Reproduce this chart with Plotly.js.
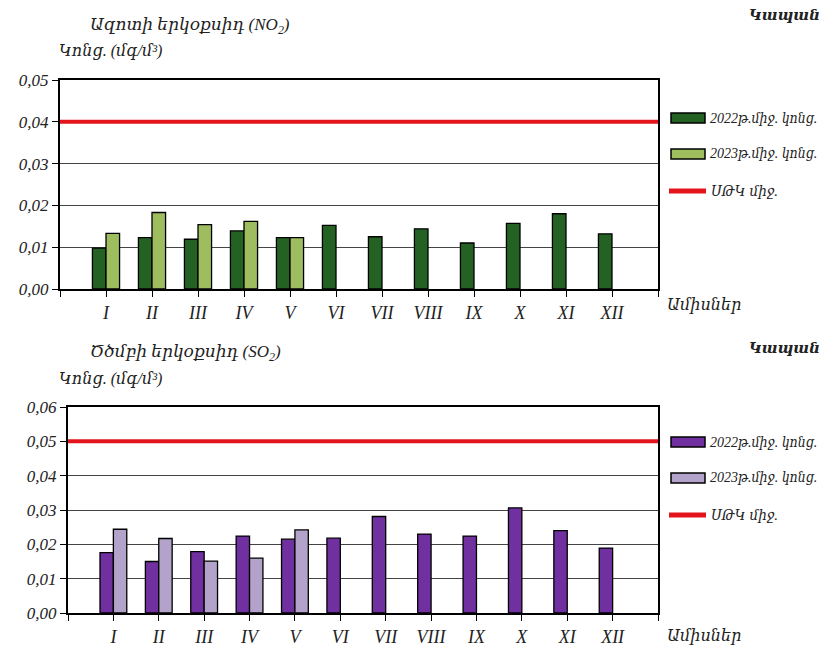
<!DOCTYPE html>
<html>
<head>
<meta charset="utf-8">
<script src="https://cdn.plot.ly/plotly-3.0.1.min.js"></script>
<style>html,body{margin:0;padding:0;background:#fff;} #chart{width:827px;height:648px;}</style>
</head>
<body>
<div id="chart"></div>
<script>
// ---- data ----
const months = ["I","II","III","IV","V","VI","VII","VIII","IX","X","XI","XII"];
const no2_2022 = [0.0098,0.0123,0.0119,0.0139,0.0123,0.0152,0.0125,0.0144,0.0110,0.0157,0.0180,0.0132];
const no2_2023 = [0.0133,0.0183,0.0154,0.0162,0.0123,null,null,null,null,null,null,null];
const so2_2022 = [0.0176,0.0150,0.0179,0.0224,0.0215,0.0218,0.0281,0.0230,0.0224,0.0306,0.0240,0.0189];
const so2_2023 = [0.0244,0.0217,0.0151,0.0160,0.0242,null,null,null,null,null,null,null];
const macNO2 = 0.04;
const macSO2 = 0.05;
const seriesNames = ["2022թ.միջ. կոնց.","2023թ.միջ. կոնց.","ՍԹԿ միջ."];
const city = "Կապան";
const title1 = "Ազոտի երկօքսիդ (NO<sub>2</sub>)";
const title2 = "Ծծմբի երկօքսիդ (SO<sub>2</sub>)";
const unitLabel = "Կոնց. (մգ/մ³)";
const xLabel = "Ամիսներ";

// ---- helpers ----
const W = 827, H = 648;
const px = x => x / W;
const py = y => 1 - y / H;
const FONT = "Liberation Serif, DejaVu Serif, serif";
const FONT_C = "Liberation Serif, DejaVu Serif Condensed, DejaVu Serif, serif";
const idx = months.map((_, i) => i);

const C = {
  g1: "#246224", g2: "#9dbd5f", p1: "#7030a0", p2: "#b3a2c9", red: "#e3141b"
};

function bar(x, y, color, name, xa, ya) {
  return {type: "bar", x: x, y: y, name: name, xaxis: xa, yaxis: ya,
    marker: {color: color, line: {color: "#000", width: 1.3}}, showlegend: false,
    hoverinfo: "y"};
}

const traces = [
  bar(idx, no2_2022, C.g1, seriesNames[0], "x", "y"),
  bar(idx, no2_2023, C.g2, seriesNames[1], "x", "y"),
  bar(idx, so2_2022, C.p1, seriesNames[0], "x2", "y2"),
  bar(idx, so2_2023, C.p2, seriesNames[1], "x2", "y2")
];

function xax(domain, anchor) {
  return {domain: domain, anchor: anchor, type: "linear", range: [-1, months.length],
    tickmode: "array", tickvals: idx, ticktext: months, ticks: "outside", ticklen: 6,
    tickcolor: "#000", tickwidth: 1,
    minor: {ticks: "outside", tick0: -1, dtick: 1, ticklen: 6, tickcolor: "#000", tickwidth: 1, showgrid: false},
    showline: true, linecolor: "#000", linewidth: 2,
    mirror: true, showgrid: false, zeroline: false, fixedrange: true,
    tickfont: {family: FONT, size: 18, color: "#222", style: "italic"}};
}
function yax(domain, anchor, max) {
  return {domain: domain, anchor: anchor, range: [0, max], dtick: 0.01, tick0: 0,
    tickformat: ".2f", ticks: "outside", ticklen: 6, tickcolor: "#000",
    showline: true, linecolor: "#000", linewidth: 2, mirror: true,
    showgrid: true, gridcolor: "#444", gridwidth: 1, zeroline: false, fixedrange: true,
    tickfont: {family: FONT, size: 17, color: "#222", style: "italic"}};
}

const ann = [];
function text(t, x, y, xanchor, opts) {
  opts = opts || {};
  ann.push({text: t, x: px(x), y: py(y), xref: "paper", yref: "paper",
    xanchor: xanchor, yanchor: "middle", showarrow: false,
    font: {family: opts.family || FONT, size: opts.size || 16, color: "#222", style: "italic",
      weight: opts.weight || "normal"}});
}
text(title1, 88, 26, "left", {size: 17});
text(unitLabel, 57, 51, "left", {size: 16});
text(city, 822, 15, "right", {size: 15, weight: "bold"});
text(xLabel, 665, 305, "left", {size: 16});
text(title2, 88, 353, "left", {size: 17});
text(unitLabel, 57, 379, "left", {size: 16});
text(city, 822, 348, "right", {size: 15, weight: "bold"});
text(xLabel, 665, 636, "left", {size: 16});

const shapes = [
  {type: "line", xref: "x domain", yref: "y", x0: 0, x1: 1, y0: macNO2, y1: macNO2,
    line: {color: C.red, width: 4}},
  {type: "line", xref: "x2 domain", yref: "y2", x0: 0, x1: 1, y0: macSO2, y1: macSO2,
    line: {color: C.red, width: 4}}
];

// custom legends
function legend(yTop, colors) {
  const ys = [yTop, yTop + 36, yTop + 73];
  for (let i = 0; i < 2; i++) {
    shapes.push({type: "rect", xref: "paper", yref: "paper",
      x0: px(671), x1: px(705), y0: py(ys[i] - 5), y1: py(ys[i] + 5),
      fillcolor: colors[i], line: {color: "#000", width: 1.5}});
    text(seriesNames[i], 708, ys[i], "left", {size: 14, family: FONT_C});
  }
  shapes.push({type: "line", xref: "paper", yref: "paper",
    x0: px(669), x1: px(706), y0: py(ys[2]), y1: py(ys[2]),
    line: {color: C.red, width: 5}});
  text(seriesNames[2], 709, ys[2], "left", {size: 15, family: FONT_C});
}
legend(118, [C.g1, C.g2]);
legend(442, [C.p1, C.p2]);

const layout = {
  width: W, height: H, margin: {l: 0, r: 0, t: 0, b: 0},
  paper_bgcolor: "#fff", plot_bgcolor: "#fff",
  separators: ", ",
  barmode: "group", bargap: 0.41, bargroupgap: 0,
  showlegend: false,
  xaxis: xax([px(60), px(658)], "y"),
  yaxis: yax([py(289), py(80)], "x", 0.05),
  xaxis2: xax([px(68), px(658)], "y2"),
  yaxis2: yax([py(613), py(407)], "x2", 0.06),
  annotations: ann,
  shapes: shapes
};

Plotly.newPlot("chart", traces, layout, {displayModeBar: false, staticPlot: true});
</script>
</body>
</html>
